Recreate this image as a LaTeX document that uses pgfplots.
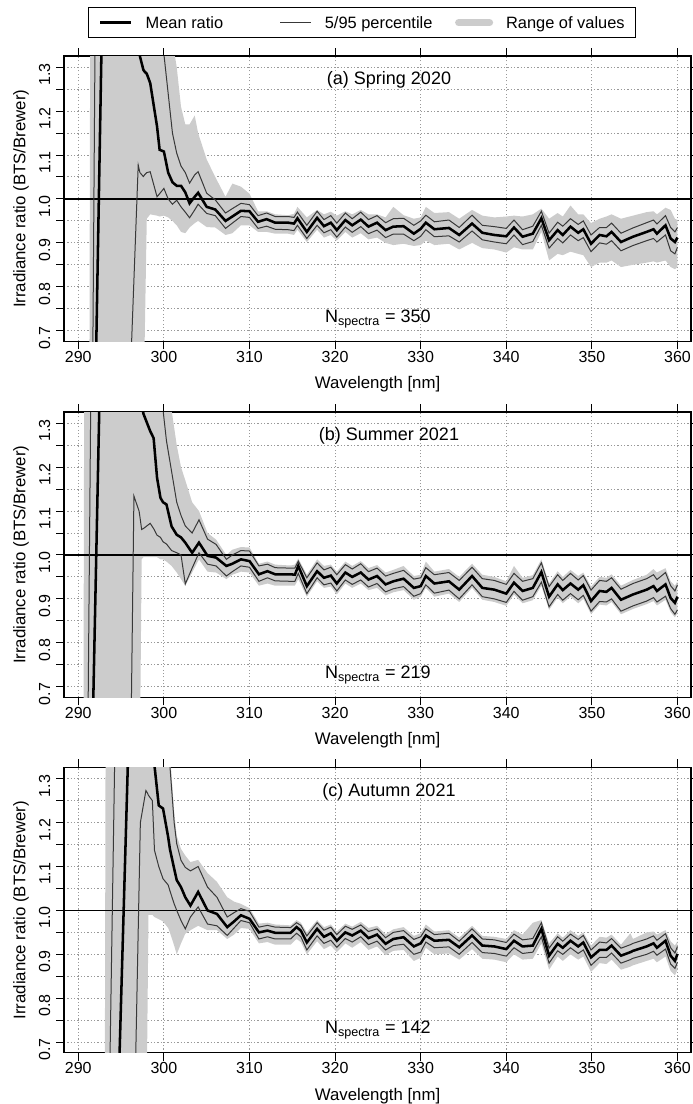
\documentclass[border=0pt]{standalone}
\usepackage{fontspec}
\setmainfont{Liberation Sans}
\usepackage{pgfplots}
\pgfplotsset{compat=1.18}
\usepackage{pgfplotstable}
\usepgfplotslibrary{fillbetween}

% columns: wavelength, min, 5th pct, mean, 95th pct, max
% (values outside 0.675..1.325 are off the plot and get clipped)
\pgfplotstableread{
wl lo p5 mean p95 hi
290.0  0.3   0.3   0.3   0.3   0.3
291.3  0.3   0.3   0.3   0.3   0.6
291.4  0.3   0.3   0.3   0.3   1.5
291.7  0.3   0.3   0.3   0.66  1.5
291.95 0.3   0.3   0.3   1.34  1.5
292.1  0.3   0.3   0.67  1.5   1.5
292.7  0.3   0.3   1.33  1.5   1.5
296.2  0.3   0.66  1.5   1.5   1.5
297.0  0.3   1.077 1.36  1.5   1.5
297.2  0.3   1.06  1.325 1.5   1.5
297.6  0.3   1.051 1.294 1.5   1.5
297.75 0.67  1.055 1.29  1.5   1.5
298.0  0.955 1.06  1.285 1.5   1.5
298.4  0.965 1.062 1.264 1.5   1.5
299.2  0.962 1.005 1.165 1.5   1.5
299.5  0.96  1.012 1.112 1.42  1.5
300.0  0.962 1.024 1.108 1.33  1.5
300.5  0.958 1.0   1.06  1.24  1.45
301.0  0.95  0.988 1.038 1.15  1.36
301.5  0.94  0.997 1.03  1.104 1.30
302.0  0.925 0.982 1.03  1.075 1.21
302.5  0.922 0.97  1.015 1.06  1.17
303.0  0.935 0.957 0.99  1.036 1.17
303.6  0.945 0.975 1.005 1.055 1.19
304.0  0.95  0.988 1.014 1.062 1.15
305.0  0.936 0.967 0.982 1.013 1.09
306.0  0.935 0.962 0.976 0.998 1.05
307.2  0.918 0.933 0.950 0.968 1.005
308.0  0.922 0.945 0.960 0.978 1.035
309.0  0.94  0.96  0.973 0.990 1.028
310.0  0.94  0.958 0.972 0.987 1.012
311.0  0.925 0.933 0.948 0.962 0.972
312.0  0.925 0.938 0.954 0.968 0.972
313.0  0.921 0.931 0.946 0.960 0.965
314.5  0.921 0.930 0.946 0.960 0.963
315.2  0.918 0.928 0.944 0.958 0.966
315.6  0.93  0.940 0.956 0.970 0.982
316.7  0.902 0.910 0.925 0.940 0.958
317.9  0.93  0.940 0.957 0.972 0.975
318.7  0.912 0.923 0.938 0.953 0.965
319.5  0.918 0.930 0.946 0.962 0.971
320.2  0.905 0.913 0.929 0.945 0.962
321.2  0.925 0.936 0.952 0.968 0.972
322.0  0.912 0.924 0.940 0.955 0.965
323.0  0.922 0.937 0.953 0.970 0.975
323.9  0.908 0.921 0.937 0.953 0.965
324.9  0.912 0.929 0.946 0.962 0.965
325.9  0.900 0.912 0.929 0.946 0.958
326.8  0.895 0.920 0.937 0.955 0.982
328.0  0.898 0.920 0.938 0.956 0.963
329.2  0.893 0.905 0.921 0.940 0.955
330.0  0.895 0.915 0.932 0.950 0.958
330.6  0.905 0.930 0.946 0.963 0.982
331.6  0.895 0.914 0.931 0.948 0.968
333.3  0.898 0.916 0.934 0.952 0.970
334.5  0.885 0.902 0.918 0.935 0.955
336.0  0.900 0.927 0.944 0.963 0.975
337.2  0.888 0.907 0.923 0.940 0.962
338.6  0.885 0.902 0.918 0.937 0.958
340.0  0.878 0.898 0.915 0.933 0.960
340.9  0.890 0.918 0.935 0.952 0.962
341.9  0.885 0.896 0.914 0.930 0.960
343.1  0.885 0.903 0.921 0.938 0.965
344.1  0.925 0.940 0.956 0.972 0.978
345.0  0.860 0.888 0.906 0.922 0.955
346.0  0.875 0.910 0.929 0.947 0.968
346.6  0.872 0.900 0.918 0.938 0.960
347.5  0.880 0.918 0.937 0.955 0.985
348.4  0.875 0.905 0.923 0.942 0.965
349.0  0.872 0.912 0.931 0.950 0.965
349.9  0.845 0.880 0.898 0.918 0.945
350.9  0.855 0.900 0.918 0.935 0.955
351.7  0.855 0.897 0.915 0.935 0.960
352.3  0.860 0.905 0.925 0.945 0.965
353.4  0.845 0.882 0.902 0.922 0.955
354.8  0.850 0.894 0.914 0.934 0.962
356.4  0.855 0.905 0.925 0.946 0.970
357.2  0.858 0.910 0.931 0.952 0.972
357.6  0.855 0.902 0.921 0.943 0.965
358.6  0.860 0.918 0.940 0.962 0.980
359.2  0.845 0.882 0.910 0.935 0.975
359.7  0.840 0.875 0.902 0.925 0.955
360.0  0.845 0.890 0.912 0.935 0.952
}\springtab

\pgfplotstableread{
wl lo p5 mean p95 hi
290.0  0.3   0.3   0.3   0.3   0.3
290.6  0.3   0.3   0.3   0.3   0.6
290.7  0.3   0.3   0.3   0.3   1.5
291.15 0.3   0.3   0.3   0.66  1.5
291.45 0.3   0.3   0.3   1.34  1.5
291.75 0.3   0.3   0.67  1.5   1.5
292.45 0.3   0.3   1.33  1.5   1.5
296.2  0.3   0.66  1.5   1.5   1.5
296.5  0.3   1.134 1.5   1.5   1.5
297.1  0.3   1.10  1.45  1.5   1.5
297.25 0.66  1.08  1.40  1.5   1.5
297.4  0.99  1.058 1.36  1.5   1.5
297.6  0.995 1.06  1.322 1.5   1.5
298.4  0.995 1.072 1.282 1.5   1.5
298.8  0.995 1.06  1.266 1.5   1.5
299.2  0.995 1.045 1.176 1.5   1.5
299.6  0.99  1.04  1.13  1.40  1.5
299.9  0.99  1.03  1.12  1.33  1.5
300.3  0.985 1.025 1.115 1.26  1.5
300.9  0.975 1.01  1.065 1.19  1.33
301.5  0.96  1.005 1.046 1.12  1.25
302.0  0.945 1.0   1.04  1.09  1.20
302.5  0.93  0.934 1.028 1.066 1.17
303.3  0.96  0.97  1.005 1.05  1.12
304.1  0.99  1.005 1.028 1.08  1.10
305.1  0.962 0.979 0.998 1.036 1.05
306.1  0.96  0.975 0.994 1.024 1.035
307.3  0.945 0.952 0.975 0.99  1.0
308.0  0.955 0.962 0.98  1.0   1.012
309.0  0.962 0.975 0.99  1.01  1.018
310.0  0.96  0.972 0.986 1.009 1.017
311.1  0.93  0.94  0.956 0.975 0.98
312.1  0.935 0.948 0.963 0.979 0.985
313.0  0.93  0.941 0.956 0.971 0.978
314.8  0.93  0.940 0.956 0.970 0.976
315.3  0.93  0.940 0.955 0.970 0.978
315.7  0.945 0.958 0.975 0.986 0.992
316.7  0.905 0.912 0.929 0.948 0.955
317.9  0.94  0.948 0.963 0.982 0.99
318.7  0.925 0.932 0.948 0.966 0.975
319.5  0.928 0.936 0.953 0.972 0.978
320.2  0.91  0.918 0.935 0.955 0.962
321.2  0.935 0.943 0.960 0.978 0.985
322.0  0.925 0.933 0.950 0.968 0.975
323.0  0.935 0.943 0.960 0.980 0.986
323.9  0.92  0.927 0.944 0.962 0.97
324.9  0.925 0.935 0.952 0.970 0.977
325.9  0.908 0.916 0.933 0.952 0.96
326.8  0.915 0.923 0.940 0.958 0.966
328.0  0.92  0.928 0.946 0.965 0.975
329.2  0.898 0.906 0.925 0.945 0.952
330.0  0.905 0.912 0.929 0.948 0.955
330.6  0.925 0.932 0.952 0.971 0.985
331.6  0.905 0.913 0.935 0.955 0.962
333.3  0.912 0.920 0.940 0.960 0.968
334.5  0.893 0.900 0.921 0.942 0.95
336.0  0.925 0.932 0.952 0.972 0.98
337.2  0.898 0.905 0.925 0.946 0.955
338.6  0.893 0.900 0.921 0.942 0.95
340.0  0.884 0.892 0.912 0.933 0.94
340.9  0.91  0.917 0.937 0.958 0.975
341.9  0.89  0.897 0.918 0.940 0.948
343.1  0.897 0.905 0.925 0.946 0.954
344.1  0.93  0.938 0.961 0.982 0.99
345.0  0.875 0.882 0.905 0.928 0.935
346.0  0.903 0.910 0.933 0.955 0.963
346.6  0.89  0.897 0.920 0.942 0.95
347.5  0.905 0.912 0.935 0.958 0.966
348.4  0.89  0.898 0.921 0.943 0.952
349.0  0.90  0.908 0.931 0.953 0.96
349.9  0.865 0.872 0.895 0.920 0.928
350.9  0.887 0.894 0.918 0.942 0.95
351.7  0.885 0.893 0.916 0.940 0.948
352.3  0.893 0.900 0.925 0.948 0.956
353.4  0.865 0.872 0.898 0.922 0.93
354.8  0.877 0.884 0.910 0.935 0.943
356.4  0.888 0.895 0.921 0.946 0.955
357.2  0.895 0.903 0.929 0.955 0.968
357.6  0.885 0.893 0.918 0.944 0.96
358.6  0.898 0.906 0.933 0.960 0.97
359.2  0.87  0.878 0.902 0.930 0.94
359.7  0.858 0.865 0.891 0.918 0.93
360.0  0.868 0.875 0.905 0.932 0.94
}\summertab

\pgfplotstableread{
wl lo p5 mean p95 hi
290.0  0.3   0.3   0.3   0.3   0.3
293.1  0.3   0.3   0.3   0.3   0.6
293.2  0.3   0.3   0.3   0.3   1.5
293.7  0.3   0.3   0.3   0.66  1.5
294.25 0.3   0.3   0.3   1.34  1.5
294.8  0.3   0.3   0.66  1.5   1.5
295.8  0.3   0.3   1.34  1.5   1.5
296.7  0.3   0.66  1.5   1.5   1.5
297.25 0.3   1.2   1.5   1.5   1.5
297.9  0.3   1.273 1.5   1.5   1.5
298.0  0.6   1.27  1.5   1.5   1.5
298.2  0.99  1.262 1.5   1.5   1.5
298.65 0.99  1.25  1.45  1.5   1.5
298.9  0.985 1.137 1.33  1.5   1.5
299.4  0.98  1.10  1.239 1.5   1.5
299.9  0.975 1.072 1.232 1.5   1.5
300.5  0.96  1.058 1.167 1.5   1.5
300.7  0.95  1.045 1.14  1.33  1.36
301.2  0.92  1.015 1.095 1.2   1.225
301.5  0.90  1.0   1.069 1.152 1.17
302.0  0.925 0.977 1.053 1.114 1.14
302.5  0.947 0.958 1.03  1.098 1.125
303.1  0.955 0.985 1.011 1.09  1.11
304.0  0.965 1.008 1.042 1.10  1.115
305.1  0.955 0.969 1.0   1.053 1.085
306.2  0.955 0.965 0.992 1.03  1.065
307.4  0.935 0.943 0.962 0.985 1.03
308.2  0.945 0.96  0.975 0.995 1.02
309.0  0.96  0.977 0.989 1.004 1.015
310.0  0.958 0.972 0.981 0.998 1.005
311.1  0.925 0.935 0.95  0.962 0.97
312.1  0.928 0.940 0.954 0.966 0.972
313.0  0.922 0.935 0.949 0.962 0.968
314.8  0.922 0.935 0.949 0.961 0.966
315.5  0.935 0.948 0.962 0.972 0.978
316.0  0.928 0.940 0.954 0.966 0.972
316.7  0.90  0.910 0.927 0.942 0.95
317.9  0.93  0.942 0.958 0.972 0.978
318.7  0.912 0.925 0.940 0.955 0.962
319.5  0.92  0.932 0.948 0.962 0.968
320.2  0.905 0.916 0.931 0.945 0.952
321.2  0.925 0.936 0.950 0.964 0.97
322.0  0.915 0.928 0.943 0.957 0.963
323.0  0.928 0.940 0.954 0.967 0.974
323.9  0.91  0.922 0.937 0.952 0.96
324.9  0.918 0.930 0.945 0.958 0.965
325.9  0.898 0.910 0.924 0.938 0.946
326.8  0.908 0.920 0.935 0.950 0.957
328.0  0.91  0.923 0.939 0.954 0.962
329.2  0.885 0.900 0.918 0.934 0.942
330.0  0.892 0.905 0.925 0.940 0.948
330.6  0.915 0.928 0.943 0.958 0.968
331.6  0.90  0.915 0.931 0.945 0.952
333.3  0.902 0.917 0.933 0.948 0.955
334.5  0.888 0.900 0.916 0.930 0.938
336.0  0.912 0.927 0.943 0.958 0.965
337.2  0.89  0.904 0.920 0.935 0.942
338.6  0.888 0.902 0.918 0.933 0.94
340.0  0.882 0.896 0.912 0.927 0.935
340.9  0.90  0.915 0.931 0.946 0.955
341.9  0.888 0.902 0.918 0.933 0.945
343.1  0.89  0.905 0.920 0.936 0.972
344.1  0.925 0.940 0.958 0.972 0.978
345.0  0.865 0.880 0.897 0.914 0.925
346.0  0.895 0.908 0.924 0.940 0.948
346.6  0.885 0.900 0.915 0.930 0.938
347.5  0.90  0.915 0.931 0.946 0.955
348.4  0.888 0.902 0.918 0.934 0.942
349.0  0.895 0.910 0.927 0.943 0.95
349.9  0.86  0.875 0.893 0.910 0.92
350.9  0.88  0.893 0.910 0.928 0.94
351.7  0.878 0.893 0.910 0.926 0.938
352.3  0.888 0.903 0.920 0.936 0.945
353.4  0.865 0.880 0.897 0.914 0.922
354.5  0.872 0.888 0.905 0.922 0.948
354.8  0.875 0.891 0.908 0.925 0.935
356.4  0.885 0.900 0.918 0.935 0.95
357.2  0.89  0.907 0.925 0.942 0.952
357.6  0.882 0.898 0.915 0.932 0.945
358.6  0.895 0.912 0.931 0.947 0.955
359.2  0.862 0.878 0.897 0.915 0.93
359.7  0.852 0.868 0.885 0.903 0.92
360.0  0.865 0.882 0.901 0.918 0.93
}\autumntab

\definecolor{band}{gray}{0.80}
\definecolor{thinln}{gray}{0.22}

\pgfplotsset{
  panel/.style={
    scale only axis, width=470.25pt, height=214.1pt,
    xmin=288.33, xmax=361.58, ymin=0.6755, ymax=1.3255,
    xtick={290,300,310,320,330,340,350,360},
    ytick={0.7,0.8,0.9,1.0,1.1,1.2,1.3},
    minor ytick={0.75,0.85,0.95,1.05,1.15,1.25},
    tick align=outside, major tick length=6pt, minor tick length=6pt,
    xtick pos=both, ytick pos=both,
    xticklabel pos=lower, yticklabel pos=left,
    every tick/.style={black, line width=0.75pt},
    every minor tick/.style={black, line width=0.75pt},
    axis line style={black, line width=0.8pt},
    grid=both,
    major grid style={black!40, line width=0.75pt, dash pattern=on 0.9pt off 1.6pt},
    minor grid style={black!40, line width=0.75pt, dash pattern=on 0.9pt off 1.6pt},
    /pgf/number format/assume math mode=true,
    yticklabel style={rotate=90, anchor=south, xshift=-5.5pt,
      /pgf/number format/.cd, fixed, fixed zerofill, precision=1},
    xticklabel style={yshift=3pt},
    xlabel={Wavelength [nm]},
    ylabel={Irradiance ratio (BTS/Brewer)},
    every axis x label/.style={at={(axis description cs:0.5,-0.1506)}, anchor=center,
      font=\fontsize{12.6}{14}\selectfont},
    every axis y label/.style={at={(axis description cs:-0.0686,0.5)}, rotate=90, anchor=center,
      font=\fontsize{12.6}{14}\selectfont},
    legend image code/.code={\draw[#1] (0pt,0pt) -- (23.25pt,0pt);},
  },
}

\begin{document}
\fontsize{12}{14}\selectfont
\begin{tikzpicture}[font=\fontsize{12}{14}\selectfont]

% (a)
\begin{axis}[panel, at={(48pt,-42pt)}, anchor=north west,
  legend columns=3,
  legend style={at={(axis description cs:0.0383,1.1716)}, anchor=north west,
    draw=black, line width=0.75pt, inner xsep=8pt, inner ysep=7pt,
    font=\fontsize{12.3}{14}\selectfont,
    nodes={inner sep=0pt, text height=8.8pt, text depth=0pt},
    /tikz/column 1/.style={column sep=9.75pt},
    /tikz/column 2/.style={column sep=42.5pt},
    /tikz/column 3/.style={column sep=9.75pt},
    /tikz/column 4/.style={column sep=17pt},
    /tikz/column 5/.style={column sep=9.75pt}}]
\addplot[name path=ahi, draw=none, forget plot] table[x=wl, y=hi] {\springtab};
\addplot[name path=alo, draw=none, forget plot] table[x=wl, y=lo] {\springtab};
\addplot[band, forget plot] fill between[of=ahi and alo];
\addplot[black, line width=0.9pt, forget plot] coordinates {(288.33,1.0) (361.58,1.0)};
\addplot[thinln, line width=0.75pt, forget plot] table[x=wl, y=p5] {\springtab};
\addplot[thinln, line width=0.75pt, forget plot] table[x=wl, y=p95] {\springtab};
\addplot[black, line width=1.9pt, forget plot] table[x=wl, y=mean] {\springtab};
\node[anchor=base, font=\fontsize{13.5}{15}\selectfont] at (axis cs:326.3,1.26) {(a) Spring 2020};
\node[anchor=base, font=\fontsize{13.5}{15}\selectfont] at (axis cs:325,0.719) {N\textsubscript{spectra} = 350};
\addlegendimage{black, line width=1.9pt}
\addlegendentry{Mean ratio}
\addlegendimage{thinln, line width=0.75pt}
\addlegendentry{5/95 percentile}
\addlegendimage{band, line width=5.25pt, line cap=round}
\addlegendentry{Range of values}
\end{axis}

% (b)
\begin{axis}[panel, at={(48pt,-309pt)}, anchor=north west]
\addplot[name path=bhi, draw=none, forget plot] table[x=wl, y=hi] {\summertab};
\addplot[name path=blo, draw=none, forget plot] table[x=wl, y=lo] {\summertab};
\addplot[band, forget plot] fill between[of=bhi and blo];
\addplot[black, line width=0.9pt, forget plot] coordinates {(288.33,1.0) (361.58,1.0)};
\addplot[thinln, line width=0.75pt, forget plot] table[x=wl, y=p5] {\summertab};
\addplot[thinln, line width=0.75pt, forget plot] table[x=wl, y=p95] {\summertab};
\addplot[black, line width=1.9pt, forget plot] table[x=wl, y=mean] {\summertab};
\node[anchor=base, font=\fontsize{13.5}{15}\selectfont] at (axis cs:326.3,1.26) {(b) Summer 2021};
\node[anchor=base, font=\fontsize{13.5}{15}\selectfont] at (axis cs:325,0.719) {N\textsubscript{spectra} = 219};
\end{axis}

% (c)
\begin{axis}[panel, at={(48pt,-575.6pt)}, anchor=north west]
\addplot[name path=chi, draw=none, forget plot] table[x=wl, y=hi] {\autumntab};
\addplot[name path=clo, draw=none, forget plot] table[x=wl, y=lo] {\autumntab};
\addplot[band, forget plot] fill between[of=chi and clo];
\addplot[black, line width=0.9pt, forget plot] coordinates {(288.33,1.0) (361.58,1.0)};
\addplot[thinln, line width=0.75pt, forget plot] table[x=wl, y=p5] {\autumntab};
\addplot[thinln, line width=0.75pt, forget plot] table[x=wl, y=p95] {\autumntab};
\addplot[black, line width=1.9pt, forget plot] table[x=wl, y=mean] {\autumntab};
\node[anchor=base, font=\fontsize{13.5}{15}\selectfont] at (axis cs:326.3,1.26) {(c) Autumn 2021};
\node[anchor=base, font=\fontsize{13.5}{15}\selectfont] at (axis cs:325,0.719) {N\textsubscript{spectra} = 142};
\end{axis}

\pgfresetboundingbox
\useasboundingbox (0pt,0pt) rectangle (519.75pt,-828pt);
\end{tikzpicture}
\end{document}
